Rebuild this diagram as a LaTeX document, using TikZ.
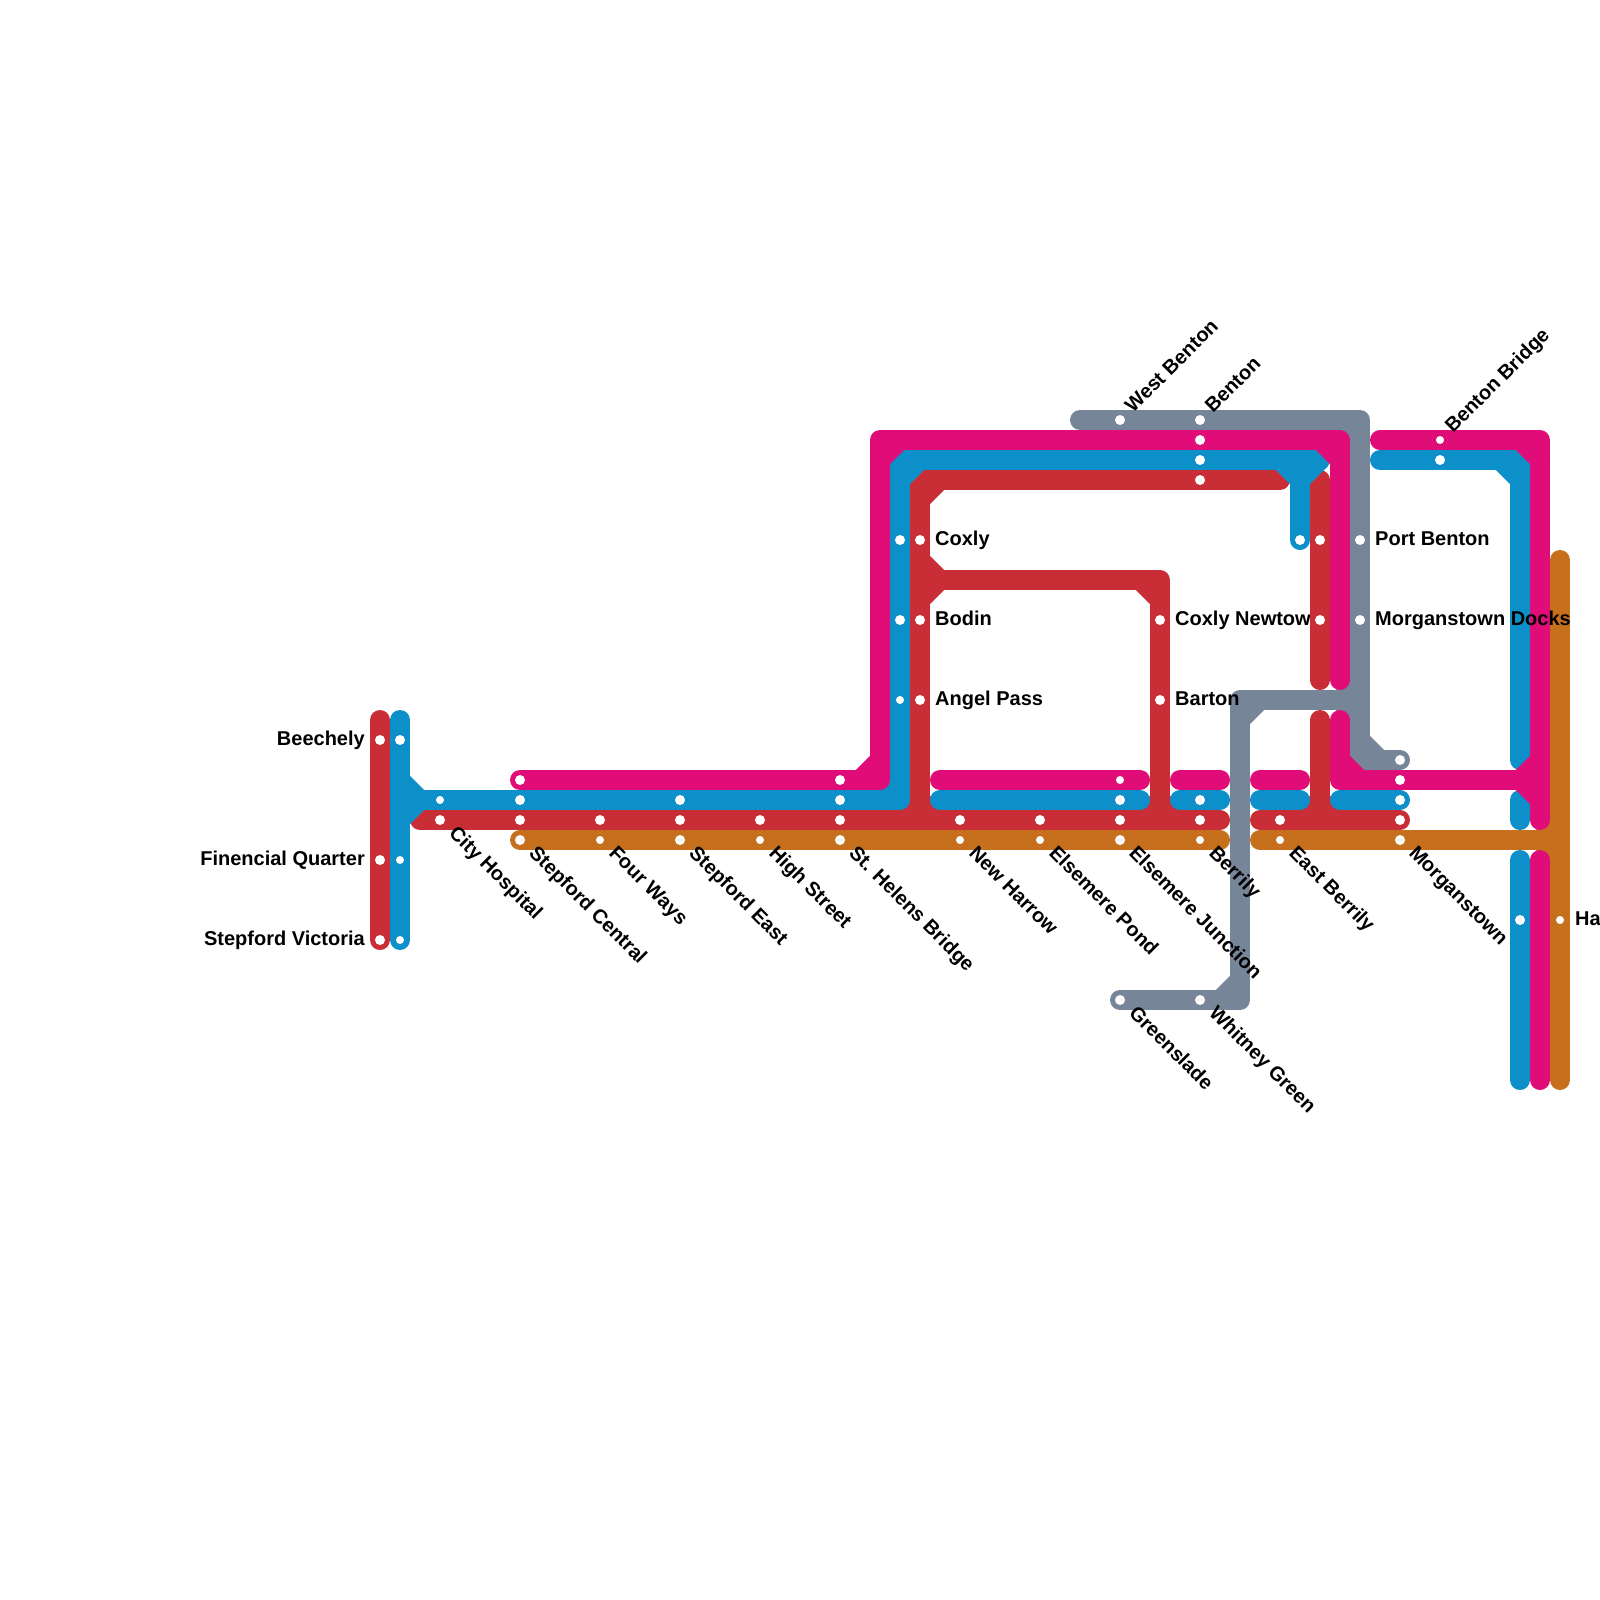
\documentclass[tikz,border=0pt]{standalone}
\usepackage{fontspec}
\setmainfont{Liberation Sans}
\definecolor{lred}{RGB}{201,46,55}
\definecolor{lblue}{RGB}{13,143,201}
\definecolor{lpink}{RGB}{224,13,120}
\definecolor{lorange}{RGB}{198,112,30}
\definecolor{lgrey}{RGB}{119,133,153}
\tikzset{
  metro/.style={line width=20pt,line cap=round,line join=round},
  redl/.style={metro,draw=lred},
  bluel/.style={metro,draw=lblue},
  pinkl/.style={metro,draw=lpink},
  orangel/.style={metro,draw=lorange},
  greyl/.style={metro,draw=lgrey},
  bigdot/.style={circle,fill=white,inner sep=0pt,minimum size=10pt},
  smalldot/.style={circle,fill=white,inner sep=0pt,minimum size=8pt},
  lab/.style={inner sep=0pt,font=\fontsize{20}{24}\selectfont\bfseries,text=black},
  labR/.style={lab,anchor=base west},
  labL/.style={lab,anchor=base east},
  labD/.style={lab,anchor=base west,rotate=-45},
  labU/.style={lab,anchor=base west,rotate=45},
}
% chamfer of an inner corner: style, corner x, y, direction x, direction y
\newcommand{\chf}[5]{\draw[#1] ({#2+20*#4},#3) -- (#2,{#3+20*#5});}
\begin{document}
\begin{tikzpicture}[x=1pt,y=-1pt]
\useasboundingbox (0,0) rectangle (1600,1600);
% red
\draw[redl] (380,720) -- (380,940);
\draw[redl] (420,820) -- (1220,820);
\draw[redl] (920,820) -- (920,480) -- (1280,480);
\chf{redl}{920}{480}{1}{1}
\chf{redl}{920}{820}{-1}{-1}
\chf{redl}{920}{820}{1}{-1}
\draw[redl] (920,580) -- (1160,580) -- (1160,820);
\chf{redl}{920}{580}{1}{-1}
\chf{redl}{920}{580}{1}{1}
\chf{redl}{1160}{580}{-1}{1}
\chf{redl}{1160}{820}{-1}{-1}
\chf{redl}{1160}{820}{1}{-1}
% this label lies under the next red line
\node[labR] (lNewtown) at (1175,625) {Coxly Newtown};
\draw[redl] (1320,480) -- (1320,680);
\draw[redl] (1320,720) -- (1320,820);
\draw[redl] (1260,820) -- (1400,820);
\chf{redl}{1320}{820}{-1}{-1}
\chf{redl}{1320}{820}{1}{-1}
% orange
\draw[orangel] (520,840) -- (1220,840);
\draw[orangel] (1260,840) -- (1560,840);
\draw[orangel] (1560,560) -- (1560,1080);
\chf{orangel}{1560}{840}{-1}{-1}
\chf{orangel}{1560}{840}{-1}{1}
% grey
\draw[greyl] (1080,420) -- (1360,420) -- (1360,760) -- (1400,760);
\chf{greyl}{1360}{420}{-1}{1}
\chf{greyl}{1360}{760}{1}{-1}
\draw[greyl] (1360,700) -- (1240,700) -- (1240,1000) -- (1120,1000);
\chf{greyl}{1360}{700}{-1}{-1}
\chf{greyl}{1360}{700}{-1}{1}
\chf{greyl}{1240}{700}{1}{1}
\chf{greyl}{1240}{1000}{-1}{-1}
% blue
\draw[bluel] (400,720) -- (400,940);
\draw[bluel] (400,800) -- (900,800) -- (900,460) -- (1320,460);
\chf{bluel}{400}{800}{1}{-1}
\chf{bluel}{400}{800}{1}{1}
\chf{bluel}{900}{800}{-1}{-1}
\chf{bluel}{900}{460}{1}{1}
\draw[bluel] (1300,460) -- (1300,540);
\chf{bluel}{1300}{460}{-1}{1}
\chf{bluel}{1300}{460}{1}{1}
\draw[bluel] (940,800) -- (1140,800);
\draw[bluel] (1180,800) -- (1220,800);
\draw[bluel] (1260,800) -- (1300,800);
\draw[bluel] (1340,800) -- (1400,800);
\draw[bluel] (1380,460) -- (1520,460) -- (1520,760);
\chf{bluel}{1520}{460}{-1}{1}
\draw[bluel] (1520,800) -- (1520,820);
\draw[bluel] (1520,860) -- (1520,1080);
% pink
\draw[pinkl] (520,780) -- (880,780) -- (880,440) -- (1340,440) -- (1340,680);
\chf{pinkl}{880}{780}{-1}{-1}
\chf{pinkl}{880}{440}{1}{1}
\chf{pinkl}{1340}{440}{-1}{1}
\draw[pinkl] (940,780) -- (1140,780);
\draw[pinkl] (1180,780) -- (1220,780);
\draw[pinkl] (1260,780) -- (1300,780);
\draw[pinkl] (1340,720) -- (1340,780) -- (1540,780);
\chf{pinkl}{1340}{780}{1}{-1}
\draw[pinkl] (1380,440) -- (1540,440) -- (1540,820);
\chf{pinkl}{1540}{440}{-1}{1}
\chf{pinkl}{1540}{780}{-1}{-1}
\chf{pinkl}{1540}{780}{-1}{1}
\draw[pinkl] (1540,860) -- (1540,1080);
% stations: big
\foreach \n/\x/\y in {a1/380/740,a2/400/740,a3/380/860,a4/380/940,a5/440/820,
 b1/520/780,b2/520/800,b3/520/820,b4/520/840,b5/600/820,
 c1/680/800,c2/680/820,c3/680/840,c4/760/820,
 d1/840/780,d2/840/800,d3/840/820,d4/840/840,
 e1/900/540,e2/920/540,e3/900/620,e4/920/620,e5/920/700,
 f1/960/820,f2/1040/820,f3/1120/800,f4/1120/820,f5/1120/840,
 g1/1200/800,g2/1200/820,g3/1280/820,
 h1/1400/760,h2/1400/780,h3/1400/800,h4/1400/820,h5/1400/840,
 i1/1120/420,i2/1200/420,i3/1200/440,i4/1200/460,i5/1200/480,
 j1/1300/540,j2/1320/540,j3/1360/540,j4/1320/620,j5/1360/620,
 k1/1160/620,k2/1160/700,k3/1440/460,k4/1520/920,k5/1120/1000,k6/1200/1000}
 {\node[bigdot] (st\n) at (\x,\y) {};}
% stations: small
\foreach \n/\x/\y in {s1/400/860,s2/400/940,s3/440/800,s4/600/840,s5/760/840,
 s6/900/700,s7/960/840,s8/1040/840,s9/1120/780,s10/1200/840,s11/1280/840,
 s12/1440/440,s13/1560/920}
 {\node[smalldot] (st\n) at (\x,\y) {};}
% labels
\node[labL] (lBeechely) at (365,745) {Beechely};
\node[labL] (lFinencial) at (365,865) {Finencial Quarter};
\node[labL] (lVictoria) at (365,945) {Stepford Victoria};
\node[labR] (lCoxly) at (935,545) {Coxly};
\node[labR] (lBodin) at (935,625) {Bodin};
\node[labR] (lAngel) at (935,705) {Angel Pass};
\node[labR] (lBarton) at (1175,705) {Barton};
\node[labR] (lPort) at (1375,545) {Port Benton};
\node[labR] (lDocks) at (1375,625) {Morganstown Docks};
\node[labR] (lHa) at (1575,925) {Ha};
\node[labD] (lCity) at (448,834) {City Hospital};
\node[labD] (lCentral) at (528,854) {Stepford Central};
\node[labD] (lFour) at (608,854) {Four Ways};
\node[labD] (lEast) at (688,854) {Stepford East};
\node[labD] (lHigh) at (768,854) {High Street};
\node[labD] (lHelens) at (848,854) {St. Helens Bridge};
\node[labD] (lHarrow) at (968,854) {New Harrow};
\node[labD] (lPond) at (1048,854) {Elsemere Pond};
\node[labD] (lJunction) at (1128,854) {Elsemere Junction};
\node[labD] (lBerrily) at (1208,854) {Berrily};
\node[labD] (lEBerrily) at (1288,854) {East Berrily};
\node[labD] (lMorgan) at (1408,854) {Morganstown};
\node[labD] (lGreen) at (1128,1014) {Greenslade};
\node[labD] (lWhitney) at (1208,1014) {Whitney Green};
\node[labU] (lWest) at (1133,414) {West Benton};
\node[labU] (lBenton) at (1213,414) {Benton};
\node[labU] (lBridge) at (1453,434) {Benton Bridge};
\end{tikzpicture}
\end{document}
